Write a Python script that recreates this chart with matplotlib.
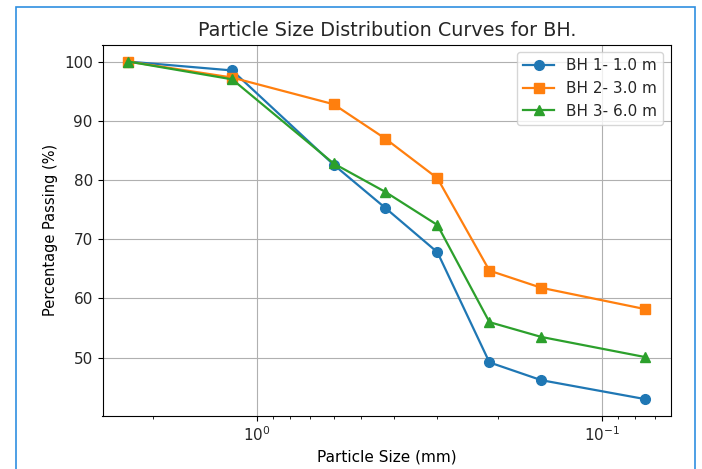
import numpy as np
import matplotlib
matplotlib.use("Agg")
import matplotlib.pyplot as plt
from matplotlib.patches import Rectangle

# Sieve sizes (mm) and percentage passing for each borehole
sieve_mm = [2.36, 1.18, 0.6, 0.425, 0.3, 0.212, 0.15, 0.075]
bh1 = [100, 98.5, 82.6, 75.3, 67.8, 49.2, 46.2, 43.0]
bh2 = [100, 97.3, 92.8, 87.0, 80.3, 64.7, 61.8, 58.2]
bh3 = [100, 97.0, 82.8, 78.0, 72.4, 56.0, 53.5, 50.1]
labels = ["BH 1- 1.0 m", "BH 2- 3.0 m", "BH 3- 6.0 m"]

plt.rcParams["text.color"] = "#262626"
plt.rcParams["xtick.labelcolor"] = "#262626"
plt.rcParams["ytick.labelcolor"] = "#262626"

fig = plt.figure(figsize=(7.02, 4.69), dpi=100)
ax = fig.add_axes([102.5 / 702, 1 - 416 / 469, (671 - 102.5) / 702, (416 - 44.7) / 469])

ax.plot(sieve_mm, bh1, marker="o", ms=7, lw=1.6, label=labels[0])
ax.plot(sieve_mm, bh2, marker="s", ms=7, lw=1.6, label=labels[1])
ax.plot(sieve_mm, bh3, marker="^", ms=7, lw=1.6, label=labels[2])

ax.set_xscale("log")
ax.invert_xaxis()
ax.set_xlabel("Particle Size (mm)", fontsize=11)
ax.set_ylabel("Percentage Passing (%)", fontsize=10.5)
ax.set_title("Particle Size Distribution Curves for BH.", fontsize=13.8)
ax.tick_params(labelsize=11)
ax.grid(True)
ax.legend(fontsize=11)

# blue frame around the screenshot
fig.patches.append(Rectangle((15.5 / 702, -0.05), (695 - 15.5) / 702, 1 - 7.5 / 469 + 0.05,
                             transform=fig.transFigure, fill=False,
                             edgecolor="#2f8fe0", linewidth=1.2))

fig.savefig("out.png", dpi=100)
